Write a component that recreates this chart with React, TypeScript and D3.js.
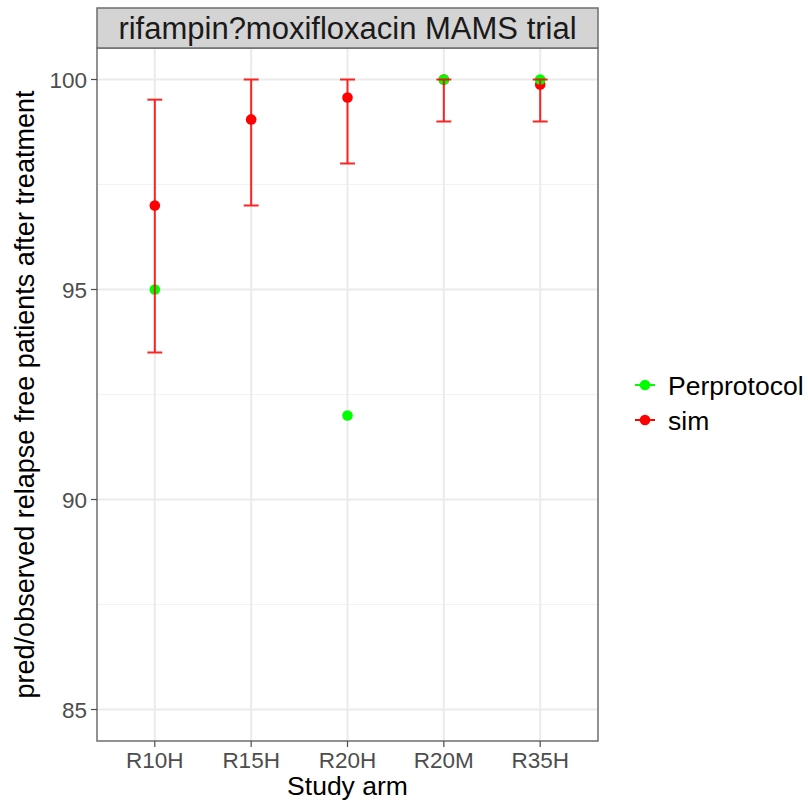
import React from "react";
import * as d3 from "d3";

// Study arms and relapse-free percentages
const arms = ["R10H", "R15H", "R20H", "R20M", "R35H"];
const simMean = [97.0, 99.05, 99.57, 100.0, 99.88];
const simLow = [93.5, 97.0, 98.0, 99.0, 99.0];
const simHigh = [99.52, 100.0, 100.0, 100.0, 100.0];
const perProtocol: (number | null)[] = [95, null, 92, 100, 100];

const yTicks = [85, 90, 95, 100];
const yMinor = [87.5, 92.5, 97.5];

const seriesNames = ["Perprotocol", "sim"];
const seriesColors = ["#00FF00", "#FF0000"];

const W = 808;
const H = 802;
const panel = { left: 97, right: 598, top: 48, bottom: 741 };
const strip = { top: 8, bottom: 48 };
const FONT = "'Liberation Sans', Arial, Helvetica, sans-serif";

export default function App() {
  const x = d3
    .scalePoint<string>()
    .domain(arms)
    .range([panel.left, panel.right])
    .padding(0.6);
  const y = d3
    .scaleLinear()
    .domain([84.25, 100.75])
    .range([panel.bottom, panel.top]);
  const capHalf = (x.step() * 0.155) / 2;

  const pointR = 5.3;

  return (
    <svg
      width={W}
      height={H}
      style={{ position: "absolute", left: 0, top: 0, background: "#fff" }}
      fontFamily={FONT}
    >
      <rect x={0} y={0} width={W} height={H} fill="#fff" />
      {/* panel background and grid */}
      <rect
        x={panel.left}
        y={panel.top}
        width={panel.right - panel.left}
        height={panel.bottom - panel.top}
        fill="#fff"
      />
      {yMinor.map((v) => (
        <line
          key={"mn" + v}
          x1={panel.left}
          x2={panel.right}
          y1={y(v)}
          y2={y(v)}
          stroke="#F2F2F2"
          strokeWidth={1.2}
        />
      ))}
      {yTicks.map((v) => (
        <line
          key={"mj" + v}
          x1={panel.left}
          x2={panel.right}
          y1={y(v)}
          y2={y(v)}
          stroke="#EBEBEB"
          strokeWidth={2}
        />
      ))}
      {arms.map((a) => (
        <line
          key={"vx" + a}
          x1={x(a)}
          x2={x(a)}
          y1={panel.top}
          y2={panel.bottom}
          stroke="#EBEBEB"
          strokeWidth={2}
        />
      ))}

      {/* simulated means */}
      {simMean.map((v, i) => (
        <circle
          key={"sm" + i}
          cx={x(arms[i])}
          cy={y(v)}
          r={pointR}
          fill={seriesColors[1]}
        />
      ))}
      {/* observed per-protocol points */}
      {perProtocol.map((v, i) =>
        v == null ? null : (
          <circle
            key={"pp" + i}
            cx={x(arms[i])}
            cy={y(v)}
            r={pointR}
            fill={seriesColors[0]}
          />
        )
      )}
      {/* simulated intervals */}
      {arms.map((a, i) => {
        const cx = x(a)!;
        return (
          <g key={"eb" + a} stroke={seriesColors[1]} strokeWidth={2} opacity={0.85}>
            <line x1={cx} x2={cx} y1={y(simLow[i])} y2={y(simHigh[i])} />
            <line x1={cx - capHalf} x2={cx + capHalf} y1={y(simLow[i])} y2={y(simLow[i])} />
            <line x1={cx - capHalf} x2={cx + capHalf} y1={y(simHigh[i])} y2={y(simHigh[i])} />
          </g>
        );
      })}

      {/* panel border */}
      <rect
        x={panel.left}
        y={panel.top}
        width={panel.right - panel.left}
        height={panel.bottom - panel.top}
        fill="none"
        stroke="#6E6E6E"
        strokeWidth={1.5}
      />

      {/* facet strip */}
      <rect
        x={panel.left}
        y={strip.top}
        width={panel.right - panel.left}
        height={strip.bottom - strip.top}
        fill="#D4D4D4"
        stroke="#6E6E6E"
        strokeWidth={1.5}
      />
      <text
        x={(panel.left + panel.right) / 2}
        y={(strip.top + strip.bottom) / 2}
        dy="0.36em"
        textAnchor="middle"
        fontSize={31}
        fill="#1A1A1A"
      >
        rifampin?moxifloxacin MAMS trial
      </text>

      {/* y axis */}
      {yTicks.map((v) => (
        <g key={"yt" + v}>
          <line
            x1={panel.left - 6}
            x2={panel.left}
            y1={y(v)}
            y2={y(v)}
            stroke="#4D4D4D"
            strokeWidth={1.2}
          />
          <text
            x={panel.left - 10}
            y={y(v)}
            dy="0.36em"
            textAnchor="end"
            fontSize={22.5}
            fill="#4D4D4D"
          >
            {v}
          </text>
        </g>
      ))}
      <text
        transform={`translate(34, ${(panel.top + panel.bottom) / 2}) rotate(-90)`}
        textAnchor="middle"
        fontSize={27}
        fill="#000"
      >
        pred/observed relapse free patients after treatment
      </text>

      {/* x axis */}
      {arms.map((a) => (
        <g key={"xt" + a}>
          <line
            x1={x(a)}
            x2={x(a)}
            y1={panel.bottom}
            y2={panel.bottom + 6}
            stroke="#4D4D4D"
            strokeWidth={1.2}
          />
          <text
            x={x(a)}
            y={768}
            textAnchor="middle"
            fontSize={22.5}
            fill="#4D4D4D"
          >
            {a}
          </text>
        </g>
      ))}
      <text
        x={(panel.left + panel.right) / 2}
        y={795}
        textAnchor="middle"
        fontSize={26.5}
        fill="#000"
      >
        Study arm
      </text>

      {/* legend */}
      {seriesNames.map((name, i) => {
        const cy = 385 + i * 35;
        return (
          <g key={"lg" + name}>
            <line
              x1={635}
              x2={655}
              y1={cy}
              y2={cy}
              stroke={seriesColors[i]}
              strokeWidth={2}
            />
            <circle cx={645} cy={cy} r={pointR} fill={seriesColors[i]} />
            <text x={668} y={cy} dy="0.36em" fontSize={26.5} fill="#000">
              {name}
            </text>
          </g>
        );
      })}
    </svg>
  );
}
